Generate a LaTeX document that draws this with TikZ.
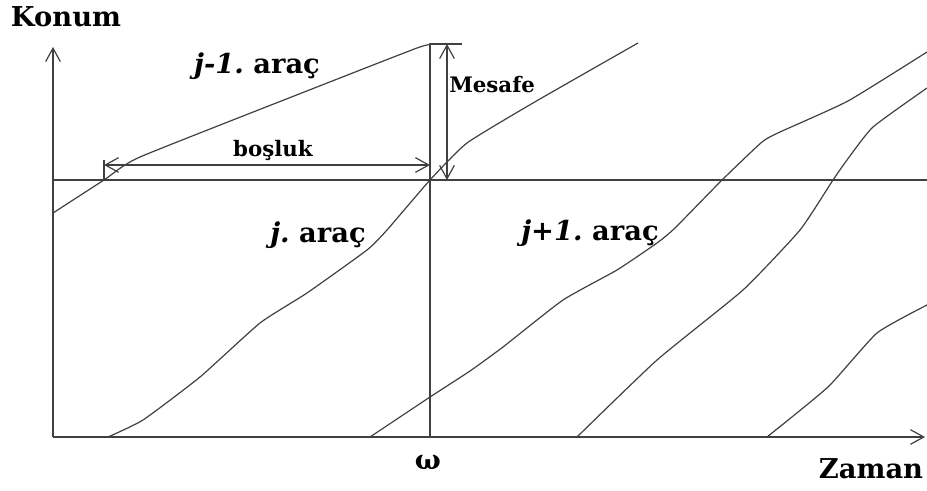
\documentclass[tikz,border=0pt]{standalone}
\usepackage{fontspec}
\setmainfont{DejaVu Serif}
\usetikzlibrary{arrows.meta}
\begin{document}
\begin{tikzpicture}[x=0.75pt,y=-0.75pt,
  ln/.style={line width=0.9pt, draw=black!75, line join=round},
  crv/.style={line width=0.9pt, draw=black!75, smooth, tension=0.3},
  barb/.style={line width=0.9pt, draw=black!75, -{Straight Barb[length=10pt,width=11pt]}},
  dbarb/.style={line width=0.9pt, draw=black!75, {Straight Barb[length=10pt,width=11pt]}-{Straight Barb[length=10pt,width=11pt]}},
  lab/.style={font=\fontsize{20.5}{24}\selectfont\bfseries, inner sep=0pt, text=black},
  slab/.style={font=\fontsize{16}{19}\selectfont\bfseries, inner sep=0pt, text=black}]
\useasboundingbox (0,0) rectangle (927,491);
% coordinates
\coordinate (O) at (53,437);
\coordinate (Ytop) at (53,47);
\coordinate (Xend) at (925,437);
\coordinate (Hl) at (53,180);
\coordinate (Hr) at (927,180);
\coordinate (Wb) at (430,437);
\coordinate (Wt) at (430,44);
\coordinate (Tk) at (462,44);
\coordinate (Mt) at (447,44);
\coordinate (Mb) at (447,180);
\coordinate (Bl) at (104,165);
\coordinate (Br) at (430,165);
\coordinate (BTt) at (104,160);
\coordinate (BTb) at (104,180);
% axes
\draw[barb] (O) -- (Ytop);
\draw[barb] (O) -- (Xend);
\draw[ln] (Hl) -- (Hr);
\draw[ln] (Wb) -- (Wt) -- (Tk);
\draw[dbarb] (Mt) -- (Mb);
\draw[dbarb] (Bl) -- (Br);
\draw[ln] (BTt) -- (BTb);
% trajectories
\draw[crv] plot coordinates {(53,213) (104,180) (140,157) (317,87) (417,48) (433,44)};
\draw[crv] plot coordinates {(108,437) (143,420) (200,377) (260,323) (307,293) (367,250) (387,230) (430,180) (467,143) (533,103) (638,43)};
\draw[crv] plot coordinates {(370,437) (430,397) (470,371) (503,347) (563,300) (617,270) (657,243) (675,228) (722,180) (762,142) (780,132) (848,101) (927,52)};
\draw[crv] plot coordinates {(577,437) (657,360) (743,290) (800,230) (833,180) (847,160) (873,127) (927,88)};
\draw[crv] plot coordinates {(767,437) (828,387) (877,333) (927,305)};
% labels
\node[lab] (konum) at (66,17) {Konum};
\node[lab] (zaman) at (871,469) {Zaman};
\node[lab] (omega) at (428,462) {ω};
\node[lab] (jm1) at (257,66) {\itshape j-1.\upshape\ araç};
\node[slab] (bosluk) at (273,150) {boşluk};
\node[slab,anchor=west] (mesafe) at (449,85) {Mesafe};
\node[lab] (j) at (318,235) {\itshape j.\upshape\ araç};
\node[lab] (jp1) at (590,233) {\itshape j+1.\upshape\ araç};
\end{tikzpicture}
\end{document}
